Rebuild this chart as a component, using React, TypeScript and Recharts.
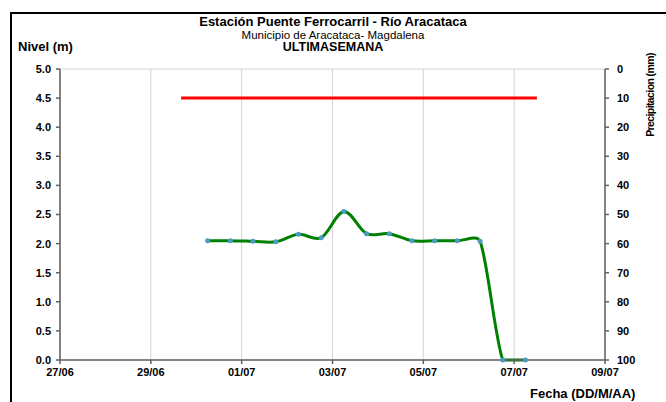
import { CartesianGrid, Line, LineChart, XAxis, YAxis } from "recharts";

// fechas de los registros (DD/MM HH:mm) y nivel del río en metros
const fechas = [
  "30/06 06:00",
  "30/06 18:00",
  "01/07 06:00",
  "01/07 18:00",
  "02/07 06:00",
  "02/07 18:00",
  "03/07 06:00",
  "03/07 18:00",
  "04/07 06:00",
  "04/07 18:00",
  "05/07 06:00",
  "05/07 18:00",
  "06/07 06:00",
  "06/07 18:00",
  "07/07 06:00",
];
const nivel = [2.05, 2.05, 2.04, 2.03, 2.16, 2.1, 2.55, 2.17, 2.17, 2.05, 2.05, 2.05, 2.04, 0, 0];
// sin lluvia registrada en la semana
const precipitacion = [0, 0, 0, 0, 0, 0, 0, 0, 0, 0, 0, 0, 0, 0, 0];

// umbral (linea roja)
const umbralFechas = ["29/06 16:00", "07/07 12:00"];
const umbral = [4.5, 4.5];

const ejeFechas = ["27/06", "29/06", "01/07", "03/07", "05/07", "07/07", "09/07"];
const nivelTicks = [0, 0.5, 1, 1.5, 2, 2.5, 3, 3.5, 4, 4.5, 5];
const precipTicks = [0, 10, 20, 30, 40, 50, 60, 70, 80, 90, 100];

// dias desde 27/06 00:00
function dia(f: string) {
  const [dm, hm = "00:00"] = f.split(" ");
  const [d, m] = dm.split("/").map(Number);
  const [h, mi] = hm.split(":").map(Number);
  const base = m === 6 ? d - 27 : d + 3;
  return base + (h + mi / 60) / 24;
}

const nivelData = fechas.map((f, i) => ({ x: dia(f), nivel: nivel[i], precip: precipitacion[i] }));
const umbralData = umbralFechas.map((f, i) => ({ x: dia(f), umbral: umbral[i] }));
const xTicks = ejeFechas.map((f) => dia(f));

// suavizado tipo Excel: Catmull-Rom con tangentes acortadas en tramos cortos
function excelCurve(context: any) {
  let pts: number[][] = [];
  return {
    areaStart() {},
    areaEnd() {},
    lineStart() {
      pts = [];
    },
    point(x: number, y: number) {
      pts.push([+x, +y]);
    },
    lineEnd() {
      if (!pts.length) return;
      const bottom = Math.max(...pts.map((p) => p[1]));
      const dist = (a: number[], b: number[]) => Math.hypot(a[0] - b[0], a[1] - b[1]);
      context.moveTo(pts[0][0], pts[0][1]);
      for (let i = 0; i < pts.length - 1; i++) {
        const p0 = pts[i - 1] || pts[i];
        const p1 = pts[i];
        const p2 = pts[i + 1];
        const p3 = pts[i + 2] || p2;
        const seg = dist(p1, p2);
        const k1 = Math.min(1, (2 * seg) / (dist(p0, p2) || 1));
        const k2 = Math.min(1, (2 * seg) / (dist(p1, p3) || 1));
        const c1y = Math.min(bottom, p1[1] + ((p2[1] - p0[1]) / 6) * k1);
        const c2y = Math.min(bottom, p2[1] - ((p3[1] - p1[1]) / 6) * k2);
        context.bezierCurveTo(
          p1[0] + ((p2[0] - p0[0]) / 6) * k1,
          c1y,
          p2[0] - ((p3[0] - p1[0]) / 6) * k2,
          c2y,
          p2[0],
          p2[1]
        );
      }
    },
  };
}

const font = "'Liberation Sans', Arial, sans-serif";
const tickStyle = { fontSize: 11, fontWeight: 700, fill: "#000", fontFamily: font };
const axisStroke = "#606060";

const label = (top: number, size: number, bold = true) => ({
  position: "absolute" as const,
  left: 0,
  width: 666,
  top: top - size / 2,
  fontSize: size,
  lineHeight: `${size}px`,
  fontWeight: bold ? 700 : 400,
  textAlign: "center" as const,
  whiteSpace: "nowrap" as const,
});

export default function App() {
  return (
    <div
      style={{
        position: "fixed",
        left: 0,
        top: 0,
        width: 666,
        height: 402,
        background: "#fff",
        fontFamily: font,
        color: "#000",
        overflow: "hidden",
      }}
    >
      <div
        style={{
          position: "absolute",
          left: 10,
          top: 12,
          width: 680,
          height: 420,
          border: "2px solid #000",
          boxSizing: "border-box",
        }}
      />
      <div style={label(21.5, 13)}>Estación Puente Ferrocarril - Río Aracataca</div>
      <div style={label(35.5, 11.5, false)}>Municipio de Aracataca- Magdalena</div>
      <div style={label(47.5, 12.5)}>ULTIMASEMANA</div>
      <div style={{ ...label(46, 13), left: 18, width: "auto", textAlign: "left" }}>Nivel (m)</div>
      <div
        style={{
          position: "absolute",
          left: 650,
          top: 95,
          fontSize: 10.5,
          fontWeight: 700,
          letterSpacing: -0.6,
          whiteSpace: "nowrap",
          transform: "translate(-50%, -50%) rotate(-90deg)",
        }}
      >
        Precipitacion (mm)
      </div>
      <div style={{ ...label(393, 13), left: 530, width: "auto", textAlign: "left" }}>Fecha (DD/M/AA)</div>
      <div style={{ position: "absolute", left: 0, top: 0 }}>
        <LineChart width={666} height={402} margin={{ top: 69, right: 21, bottom: 22, left: 10 }}>
          <CartesianGrid stroke="#d4d4d4" />
          <XAxis
            dataKey="x"
            type="number"
            domain={[0, 12]}
            ticks={xTicks}
            tickFormatter={(v: number) => ejeFechas[xTicks.indexOf(v)] ?? ""}
            tick={tickStyle}
            tickSize={4}
            tickMargin={4}
            height={20}
            stroke={axisStroke}
            strokeWidth={1.5}
          />
          <YAxis
            yAxisId="n"
            domain={[0, 5]}
            ticks={nivelTicks}
            tickFormatter={(v: number) => v.toFixed(1)}
            tick={tickStyle}
            tickSize={4}
            tickMargin={5}
            width={50}
            stroke={axisStroke}
            strokeWidth={1.5}
          />
          <YAxis
            yAxisId="p"
            orientation="right"
            domain={[0, 100]}
            reversed
            ticks={precipTicks}
            tick={tickStyle}
            tickSize={4}
            tickMargin={8}
            width={40}
            stroke={axisStroke}
            strokeWidth={1.5}
          />
          <Line
            yAxisId="p"
            data={nivelData}
            dataKey="precip"
            stroke="none"
            dot={false}
            activeDot={false}
            isAnimationActive={false}
          />
          <Line
            yAxisId="n"
            data={umbralData}
            dataKey="umbral"
            type="linear"
            stroke="#ff0000"
            strokeWidth={3}
            dot={false}
            isAnimationActive={false}
          />
          <Line
            yAxisId="n"
            data={nivelData}
            dataKey="nivel"
            type={excelCurve as any}
            stroke="#008000"
            strokeWidth={3}
            dot={{ r: 2.5, fill: "#4a9cc4", stroke: "none" }}
            isAnimationActive={false}
          />
        </LineChart>
      </div>
    </div>
  );
}
